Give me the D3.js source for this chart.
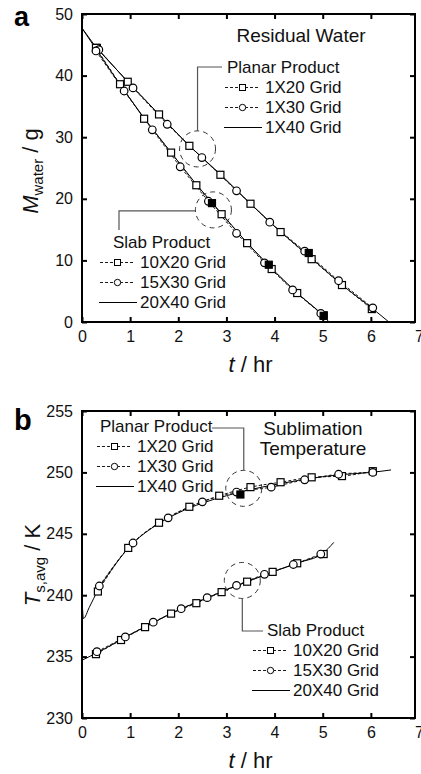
<!DOCTYPE html>
<html>
<head>
<meta charset="utf-8">
<script src="https://cdnjs.cloudflare.com/ajax/libs/d3/7.8.5/d3.min.js"></script>
<style>
  body { margin: 0; background: #fff; }
  svg { display: block; font-family: "Liberation Sans", Arial, sans-serif; }
</style>
</head>
<body>
<div id="chart"></div>
<script>
////////////////////////////////////////////////////////////////////////
// Data. Each point is [t (hr), value]

// Panel a: residual water M (g)
const waterPlanar1x20 = [[0.31,44.5],[0.95,39.0],[1.6,33.7],[2.23,28.6],[2.875,23.9],[3.5,19.2],[4.125,14.6],[4.77,10.2],[5.4,6.0],[6.02,2.1]];
const waterPlanar1x30 = [[0.35,44.2],[1.06,38.0],[1.77,32.1],[2.49,26.7],[3.21,21.3],[3.9,16.2],[4.625,11.5],[5.33,6.7],[6.04,2.3]];
const waterPlanar1x40 = [[0,47.7],[0.3,44.5],[1.0,38.6],[1.6,33.7],[2.2,28.8],[2.9,23.8],[3.5,19.2],[4.1,14.8],[4.7,10.8],[5.4,6.0],[6.0,2.4],[6.375,0]];
const waterSlab10x20 = [[0.29,44.5],[0.79,38.6],[1.29,33.0],[1.85,27.5],[2.375,22.2],[2.9,17.5],[3.43,12.8],[3.94,8.6],[4.47,4.7],[5.02,1.1]];
const waterSlab15x30 = [[0.29,44.0],[0.875,37.5],[1.46,31.2],[2.04,25.2],[2.625,19.6],[3.21,14.4],[3.79,9.6],[4.375,5.2],[4.96,1.4]];
const waterSlab20x40 = [[0,47.7],[0.3,44.2],[0.8,38.4],[1.3,33.0],[1.85,27.5],[2.4,22.1],[2.9,17.6],[3.4,13.1],[3.9,9.0],[4.45,4.8],[5.0,1.2],[5.13,0]];
const waterFilled = [[2.7,19.3],[3.88,9.3],[5.02,1.0],[4.71,11.2]];

// Panel b: average sublimation temperature Ts,avg (K)
const tempPlanar1x20 = [[0.33,240.3],[0.96,243.85],[1.6,245.9],[2.23,247.2],[2.85,248.1],[3.5,248.8],[4.125,249.2],[4.77,249.6],[5.4,249.7],[6.04,250.1]];
const tempPlanar1x30 = [[0.36,240.75],[1.06,244.25],[1.79,246.3],[2.5,247.6],[3.21,248.4],[3.93,248.8],[4.625,249.4],[5.33,249.85],[6.04,250.0]];
const tempPlanar1x40 = [[0,239.8],[0.03,238.1],[0.15,239.0],[0.33,240.4],[0.6,242.0],[1.0,244.0],[1.5,245.6],[2.0,246.7],[2.5,247.5],[3.0,248.1],[3.5,248.6],[4.0,249.0],[4.5,249.35],[5.0,249.65],[5.5,249.85],[6.0,250.0],[6.42,250.2]];
const tempSlab10x20 = [[0.29,235.2],[0.81,236.35],[1.31,237.4],[1.85,238.5],[2.375,239.35],[2.9,240.25],[3.43,241.1],[3.96,241.9],[4.47,242.6],[5.02,243.35]];
const tempSlab15x30 = [[0.31,235.4],[0.9,236.6],[1.48,237.8],[2.06,238.9],[2.6,239.8],[3.21,240.8],[3.79,241.7],[4.39,242.5],[4.96,243.35]];
const tempSlab20x40 = [[0,234.7],[0.5,235.7],[1.0,236.8],[1.5,237.8],[2.0,238.8],[2.5,239.6],[3.0,240.45],[3.5,241.2],[4.0,241.95],[4.5,242.65],[5.0,243.4],[5.23,244.3]];
const tempFilled = [[3.29,248.2]];

// Tick values
const xTicks = [0, 1, 2, 3, 4, 5, 6, 7];
const waterTicks = [0, 10, 20, 30, 40, 50];
const tempTicks = [230, 235, 240, 245, 250, 255];

// Legend labels
const planarLabels = ["1X20 Grid", "1X30 Grid", "1X40 Grid"];
const slabLabels = ["10X20 Grid", "15X30 Grid", "20X40 Grid"];

////////////////////////////////////////////////////////////////////////
// Layout

let svg = d3.select("#chart")
  .append("svg")
  .attr("width", 421)
  .attr("height", 774);

let frameLeft = 82, frameRight = 415;

let xScale = d3.scaleLinear().domain([0, 7]).range([82, 419]);
let yWater = d3.scaleLinear().domain([0, 50]).range([322, 14]);
let yTemp = d3.scaleLinear().domain([230, 255]).range([718, 411]);

////////////////////////////////////////////////////////////////////////
// Helpers

function drawAxes(yScale, yTicks) {
  let y0 = yScale.range()[0], y1 = yScale.range()[1];

  let bottom = svg.append("g")
    .attr("transform", `translate(0,${y0})`)
    .call(d3.axisBottom(xScale).tickValues(xTicks).tickFormat(d3.format("d"))
      .tickSizeInner(-5).tickSizeOuter(0).tickPadding(9));
  bottom.selectAll(".tick").filter(d => d == 7).select("line").remove();

  let top = svg.append("g")
    .attr("transform", `translate(0,${y1})`)
    .call(d3.axisTop(xScale).tickValues(xTicks.filter(d => d < 7)).tickSizeInner(-5).tickSizeOuter(0).tickFormat(""));

  let leftAx = svg.append("g")
    .attr("transform", `translate(${frameLeft},0)`)
    .call(d3.axisLeft(yScale).tickValues(yTicks).tickFormat(d3.format("d"))
      .tickSizeInner(-5).tickSizeOuter(0).tickPadding(9));

  let rightAx = svg.append("g")
    .attr("transform", `translate(${frameRight},0)`)
    .call(d3.axisRight(yScale).tickValues(yTicks).tickSizeInner(-5).tickSizeOuter(0).tickFormat(""));

  [bottom, top, leftAx, rightAx].forEach(g => {
    g.select(".domain").remove();
    g.selectAll(".tick line").attr("stroke", "#000").attr("stroke-width", 2);
    g.selectAll(".tick text").attr("font-size", 16).attr("fill", "#111")
      .attr("font-family", '"Liberation Sans", Arial, sans-serif');
  });

  svg.append("rect")
    .attr("x", frameLeft)
    .attr("y", y1)
    .attr("width", frameRight - frameLeft)
    .attr("height", y0 - y1)
    .attr("fill", "none")
    .attr("stroke", "#000")
    .attr("stroke-width", 2);
}

function drawLine(data, yScale, dashed, curve) {
  let line = d3.line()
    .x(d => xScale(d[0]))
    .y(d => yScale(d[1]))
    .curve(curve);
  svg.append("path")
    .datum(data)
    .attr("d", line)
    .attr("fill", "none")
    .attr("stroke", "#000")
    .attr("stroke-width", dashed ? 0.9 : 1)
    .attr("stroke-dasharray", dashed ? "3,2" : null);
}

function drawSquares(data, yScale, filled) {
  svg.append("g")
    .selectAll("rect")
    .data(data)
    .enter()
    .append("rect")
    .attr("x", d => xScale(d[0]) - 3.5)
    .attr("y", d => yScale(d[1]) - 3.5)
    .attr("width", 7)
    .attr("height", 7)
    .attr("fill", filled ? "#000" : "#fff")
    .attr("stroke", "#000")
    .attr("stroke-width", 1.2);
}

function drawCircles(data, yScale) {
  svg.append("g")
    .selectAll("circle")
    .data(data)
    .enter()
    .append("circle")
    .attr("cx", d => xScale(d[0]))
    .attr("cy", d => yScale(d[1]))
    .attr("r", 3.8)
    .attr("fill", "#fff")
    .attr("stroke", "#000")
    .attr("stroke-width", 1.2);
}

// x0 = left end of the symbol lines, y0 = header baseline
function drawLegend(x0, y0, headerDx, header, labels) {
  let g = svg.append("g").attr("font-size", 17).attr("fill", "#111");
  g.append("text").attr("x", x0 + headerDx).attr("y", y0).text(header);

  labels.forEach((lab, i) => {
    let yb = y0 + 20 * (i + 1);
    let ym = yb - 5.5;
    if (i < 2) {
      g.append("line")
        .attr("x1", x0).attr("x2", x0 + 35)
        .attr("y1", ym).attr("y2", ym)
        .attr("stroke", "#000").attr("stroke-width", 0.9)
        .attr("stroke-dasharray", "3,2");
      if (i == 0) {
        g.append("rect")
          .attr("x", x0 + 14.5).attr("y", ym - 3)
          .attr("width", 6).attr("height", 6)
          .attr("fill", "#fff").attr("stroke", "#000");
      } else {
        g.append("circle")
          .attr("cx", x0 + 17.5).attr("cy", ym).attr("r", 3.2)
          .attr("fill", "#fff").attr("stroke", "#000");
      }
    } else {
      g.append("line")
        .attr("x1", x0 - 1).attr("x2", x0 + 37)
        .attr("y1", ym).attr("y2", ym)
        .attr("stroke", "#000").attr("stroke-width", 1.2);
    }
    g.append("text").attr("x", x0 + 40).attr("y", yb).text(lab);
  });
}

function drawCallout(cx, cy, r, points) {
  svg.append("circle")
    .attr("cx", cx).attr("cy", cy).attr("r", r)
    .attr("fill", "none")
    .attr("stroke", "#333")
    .attr("stroke-width", 1)
    .attr("stroke-dasharray", "5,4");
  svg.append("path")
    .attr("d", d3.line()(points))
    .attr("fill", "none")
    .attr("stroke", "#555")
    .attr("stroke-width", 1.2);
}

function drawYTitle(x, y, main, sub, rest) {
  let t = svg.append("text")
    .attr("transform", `translate(${x},${y}) rotate(-90)`)
    .attr("text-anchor", "middle")
    .attr("font-size", 22)
    .attr("fill", "#111");
  t.append("tspan").attr("font-style", "italic").text(main);
  t.append("tspan").attr("font-size", 15).attr("dy", 5).text(sub);
  t.append("tspan").attr("dy", -5).text(rest);
}

function drawXTitle(y) {
  let t = svg.append("text")
    .attr("x", xScale(3.5))
    .attr("y", y)
    .attr("text-anchor", "middle")
    .attr("font-size", 22)
    .attr("fill", "#111");
  t.append("tspan").attr("font-style", "italic").text("t");
  t.append("tspan").text(" / hr");
}

////////////////////////////////////////////////////////////////////////
// Panel a

drawAxes(yWater, waterTicks);

drawLine(waterPlanar1x20, yWater, true, d3.curveLinear);
drawLine(waterPlanar1x30, yWater, true, d3.curveLinear);
drawLine(waterSlab10x20, yWater, true, d3.curveLinear);
drawLine(waterSlab15x30, yWater, true, d3.curveLinear);
drawLine(waterPlanar1x40, yWater, false, d3.curveLinear);
drawLine(waterSlab20x40, yWater, false, d3.curveLinear);

drawSquares(waterPlanar1x20, yWater, false);
drawSquares(waterSlab10x20, yWater, false);
drawCircles(waterPlanar1x30, yWater);
drawCircles(waterSlab15x30, yWater);
drawSquares(waterFilled, yWater, true);

// callouts: planar (upper curve) and slab (lower curve)
let pa = [xScale(2.40), yWater(28.1)];
drawCallout(pa[0], pa[1], 18, [[222, 67], [pa[0], 67], [pa[0], pa[1] - 18]]);
let sa = [xScale(2.73), yWater(18.2)];
drawCallout(sa[0], sa[1], 18, [[sa[0] - 18, sa[1] + 1], [119, sa[1] + 1], [119, 230]]);

drawLegend(225, 73, 2, "Planar Product", planarLabels);
drawLegend(100, 248, 13, "Slab Product", slabLabels);

svg.append("text")
  .attr("x", 301).attr("y", 42)
  .attr("text-anchor", "middle")
  .attr("font-size", 19)
  .attr("fill", "#111")
  .text("Residual Water");

drawYTitle(38, 171, "M", "water", " / g");
drawXTitle(372);

svg.append("text")
  .attr("x", 14).attr("y", 26)
  .attr("font-size", 27)
  .attr("font-weight", "bold")
  .text("a");

////////////////////////////////////////////////////////////////////////
// Panel b

drawAxes(yTemp, tempTicks);

drawLine(tempPlanar1x20, yTemp, true, d3.curveMonotoneX);
drawLine(tempPlanar1x30, yTemp, true, d3.curveMonotoneX);
drawLine(tempSlab10x20, yTemp, true, d3.curveMonotoneX);
drawLine(tempSlab15x30, yTemp, true, d3.curveMonotoneX);
drawLine(tempPlanar1x40, yTemp, false, d3.curveMonotoneX);
drawLine(tempSlab20x40, yTemp, false, d3.curveMonotoneX);

drawSquares(tempPlanar1x20, yTemp, false);
drawSquares(tempSlab10x20, yTemp, false);
drawCircles(tempPlanar1x30, yTemp);
drawCircles(tempSlab15x30, yTemp);
drawSquares(tempFilled, yTemp, true);

let pb = [xScale(3.36), yTemp(248.7)];
drawCallout(pb[0], pb[1], 18, [[212, 428], [pb[0], 428], [pb[0], pb[1] - 18]]);
let sb = [xScale(3.33), yTemp(241.2)];
drawCallout(sb[0], sb[1], 18, [[sb[0], sb[1] + 18], [sb[0], 631], [263, 631]]);

drawLegend(97, 432, 3, "Planar Product", planarLabels);
drawLegend(253, 636, 14, "Slab Product", slabLabels);

svg.append("text")
  .attr("x", 313).attr("y", 435)
  .attr("text-anchor", "middle")
  .attr("font-size", 19)
  .attr("fill", "#111")
  .text("Sublimation");
svg.append("text")
  .attr("x", 313).attr("y", 455)
  .attr("text-anchor", "middle")
  .attr("font-size", 19)
  .attr("fill", "#111")
  .text("Temperature");

drawYTitle(40, 565, "T", "s,avg", " / K");
drawXTitle(768);

svg.append("text")
  .attr("x", 14).attr("y", 430)
  .attr("font-size", 29)
  .attr("font-weight", "bold")
  .text("b");
</script>
</body>
</html>
